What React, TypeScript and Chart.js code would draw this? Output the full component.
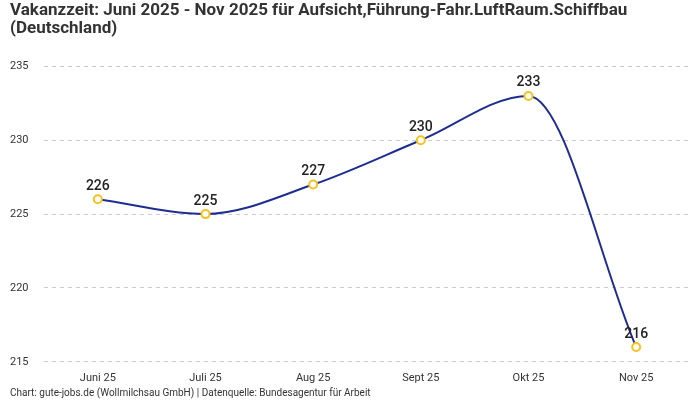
import React, { useEffect, useRef } from "react";
import { Chart, registerables } from "chart.js";

Chart.register(...registerables);

const categories = ["Juni 25", "Juli 25", "Aug 25", "Sept 25", "Okt 25", "Nov 25"];
const values = [226, 225, 227, 230, 233, 216];
const titleLines = [
  "Vakanzzeit: Juni 2025 - Nov 2025 für Aufsicht,Führung-Fahr.LuftRaum.Schiffbau",
  "(Deutschland)",
];
const footerText = "Chart: gute-jobs.de (Wollmilchsau GmbH) | Datenquelle: Bundesagentur für Arbeit";

const FONT = "Roboto, 'Noto Sans', sans-serif";

const valueLabels = {
  id: "valueLabels",
  afterDatasetsDraw(chart: any) {
    const ctx = chart.ctx;
    const meta = chart.getDatasetMeta(0);
    ctx.save();
    ctx.font = `500 14px ${FONT}`;
    ctx.fillStyle = "#222";
    ctx.textAlign = "center";
    ctx.textBaseline = "bottom";
    meta.data.forEach((pt: any, i: number) => {
      ctx.fillText(String(values[i]), pt.x, pt.y - 6);
    });
    ctx.restore();
  },
};

export default function App() {
  const ref = useRef<HTMLCanvasElement>(null);
  useEffect(() => {
    document.body.style.margin = "0";
    const chart = new Chart(ref.current!, {
      type: "line",
      data: {
        labels: categories,
        datasets: [
          {
            data: values,
            borderColor: "#1f2d91",
            borderWidth: 2,
            cubicInterpolationMode: "monotone",
            pointRadius: 4,
            pointBorderWidth: 2,
            pointBackgroundColor: "#ffffff",
            pointBorderColor: "#f7c21b",
            clip: false as any,
          },
        ],
      },
      options: {
        animation: false,
        responsive: false,
        layout: { padding: { left: 10, right: 10, top: 0, bottom: 0 } },
        plugins: {
          legend: { display: false },
          tooltip: { enabled: false },
          title: {
            display: true,
            text: titleLines,
            align: "start",
            color: "#333",
            font: { family: FONT, size: 17, weight: "bold", lineHeight: 1.1 },
            padding: { top: 1, bottom: 28 },
          },
          subtitle: {
            display: true,
            position: "bottom",
            text: footerText,
            align: "start",
            color: "#333",
            font: { family: FONT, size: 10 },
            padding: { top: 0, bottom: 1 },
          },
        },
        scales: {
          x: {
            offset: true,
            grid: { display: false },
            border: { display: false },
            ticks: { color: "#333", font: { family: FONT, size: 11 }, padding: 2 },
          },
          y: {
            min: 215,
            max: 235,
            grid: { color: "#cccccc", drawTicks: false },
            border: { display: false, dash: [4, 4] },
            afterFit: (scale: any) => {
              scale.width = 34;
            },
            ticks: {
              stepSize: 5,
              color: "#333",
              font: { family: FONT, size: 11 },
              crossAlign: "far",
              padding: 13,
            },
          },
        },
      },
      plugins: [valueLabels],
    });
    return () => chart.destroy();
  }, []);
  return (
    <div style={{ width: 700, height: 400 }}>
      <canvas ref={ref} width={700} height={400} style={{ display: "block" }} />
    </div>
  );
}
